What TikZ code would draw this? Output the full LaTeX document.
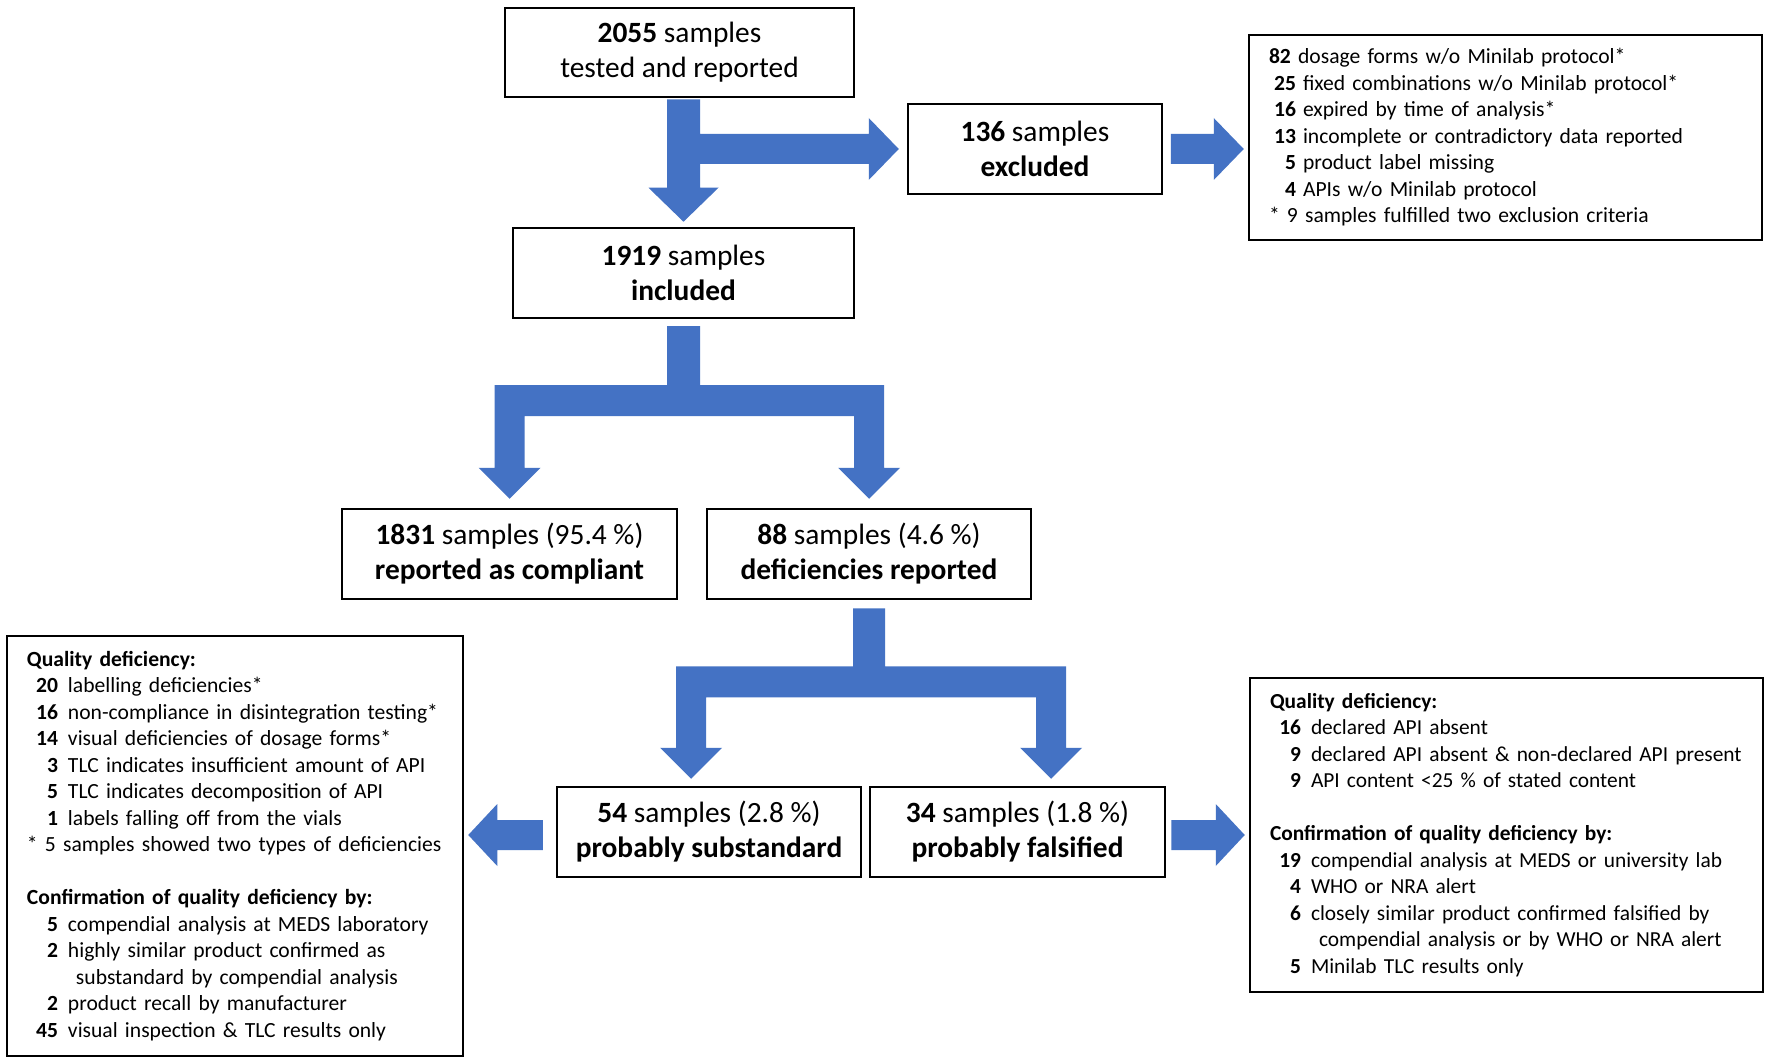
\documentclass[tikz,border=0pt]{standalone}
\usepackage{fontspec}
\setmainfont{Carlito}
\usetikzlibrary{calc}
\definecolor{arrblue}{HTML}{4472C4}
\newcommand\itm[2]{\makebox[31pt][r]{\textbf{#1}}\hspace{10pt}#2}
\newcommand\ditm[2]{\makebox[27pt][r]{\textbf{#1}}\hspace{7pt}#2}
\begin{document}
\begin{tikzpicture}[x=1pt,y=-1pt,
  box/.style={draw=black, line width=2.5pt, fill=white, inner sep=0pt, align=center,
    font=\fontsize{29.4}{35}\selectfont},
  listbox/.style={draw=black, line width=2.5pt, fill=white, inner xsep=20pt, inner ysep=0pt,
    align=left, font=\fontsize{21.6}{26.5}\selectfont},
  blk/.style={fill=arrblue}]
\fill[white] (0,0) rectangle (1770,1064);
\useasboundingbox (0,0) rectangle (1770,1064);

% boxes
\node[box, minimum width=349pt, minimum height=89pt] (A) at (679.5,52.5) {\textbf{2055} samples\\tested and reported};
\node[box, minimum width=341pt, minimum height=90pt] (B) at (683.5,273) {\textbf{1919} samples\\\textbf{included}};
\node[box, minimum width=254pt, minimum height=90pt] (C) at (1035,149) {\textbf{136} samples\\\textbf{excluded}};
\node[listbox, text width=473pt, minimum height=205pt] (D) at (1505.5,137.5) {%
\textbf{82} dosage forms w/o Minilab protocol*\\
\ditm{25}{fixed combinations w/o Minilab protocol*}\\
\ditm{16}{expired by time of analysis*}\\
\ditm{13}{incomplete or contradictory data reported}\\
\ditm{5}{product label missing}\\
\ditm{4}{APIs w/o Minilab protocol}\\
\relax * 9 samples fulfilled two exclusion criteria};
\node[box, minimum width=335pt, minimum height=90pt] (E) at (509.5,554) {\textbf{1831} samples (95.4 \%)\\\textbf{reported as compliant}};
\node[box, minimum width=324pt, minimum height=90pt] (F) at (869,554) {\textbf{88} samples (4.6 \%)\\\textbf{deficiencies reported}};
\node[box, minimum width=304pt, minimum height=90pt] (G) at (709,832) {\textbf{54} samples (2.8 \%)\\\textbf{probably substandard}};
\node[box, minimum width=295pt, minimum height=90pt] (H) at (1017.5,832) {\textbf{34} samples (1.8 \%)\\\textbf{probably falsified}};
\node[listbox, text width=473pt, minimum height=314pt, font=\fontsize{21.4}{26.5}\selectfont] (I) at (1506.5,835) {%
\textbf{Quality deficiency:}\\
\itm{16}{declared API absent}\\
\itm{9}{\mbox{declared API absent \& non-declared API present}}\\
\itm{9}{API content <25 \% of stated content}\\[26.5pt]
\textbf{Confirmation of quality deficiency by:}\\
\itm{19}{compendial analysis at MEDS or university lab}\\
\itm{4}{WHO or NRA alert}\\
\itm{6}{closely similar product confirmed falsified by}\\
\hspace*{49pt}compendial analysis or by WHO or NRA alert\\
\itm{5}{Minilab TLC results only}};
\node[listbox, text width=416pt, minimum height=420pt] (J) at (235,846) {%
\textbf{Quality deficiency:}\\
\itm{20}{labelling deficiencies*}\\
\itm{16}{non-compliance in disintegration testing*}\\
\itm{14}{visual deficiencies of dosage forms*}\\
\itm{3}{TLC indicates insufficient amount of API}\\
\itm{5}{TLC indicates decomposition of API}\\
\itm{1}{labels falling off from the vials}\\
\relax * 5 samples showed two types of deficiencies\\[26.5pt]
\textbf{Confirmation of quality deficiency by:}\\
\itm{5}{compendial analysis at MEDS laboratory}\\
\itm{2}{highly similar product confirmed as}\\
\hspace*{49pt}substandard by compendial analysis\\
\itm{2}{product recall by manufacturer}\\
\itm{45}{visual inspection \& TLC results only}};

% A -> B and A -> C
\fill[blk] let \p1=(A.south), \p2=(B.north), \p3=(C.west) in
 (\x2-16.5pt,\y1-1.25pt) -- (\x2+16.5pt,\y1-1.25pt) -- (\x2+16.5pt,\y3+15pt) -- (\x3-38pt,\y3+15pt)
 -- (\x3-38pt,\y3+31pt) -- (\x3-8pt,\y3) -- (\x3-38pt,\y3-31pt) -- (\x3-38pt,\y3-15pt)
 -- (\x2+16.5pt,\y3-15pt) -- (\x2+16.5pt,\y2+39pt) -- (\x2+35pt,\y2+39pt) -- (\x2,\y2+5pt)
 -- (\x2-35pt,\y2+39pt) -- (\x2-16.5pt,\y2+39pt) -- cycle;

% C -> D
\fill[blk] let \p1=(C.east), \p2=(D.west) in
 (\x1+7.5pt,\y1+15pt) -- (\x2-34pt,\y1+15pt) -- (\x2-34pt,\y1+31pt) -- (\x2-4pt,\y1)
 -- (\x2-34pt,\y1-31pt) -- (\x2-34pt,\y1-15pt) -- (\x1+7.5pt,\y1-15pt) -- cycle;

% B -> E and F
\fill[blk] let \p1=(B.south), \p2=(E.north), \p3=(F.north) in
 (\x1-16.5pt,\y1-7pt) -- (\x1+16.5pt,\y1-7pt) -- (\x1+16.5pt,\y1-66pt) -- (\x3+15pt,\y1-66pt)
 -- (\x3+15pt,\y3+40pt) -- (\x3+31pt,\y3+40pt) -- (\x3,\y3+9pt) -- (\x3-31pt,\y3+40pt)
 -- (\x3-15pt,\y3+40pt) -- (\x3-15pt,\y1-97pt) -- (\x2+15pt,\y1-97pt) -- (\x2+15pt,\y2+40pt)
 -- (\x2+31pt,\y2+40pt) -- (\x2,\y2+9pt) -- (\x2-31pt,\y2+40pt) -- (\x2-15pt,\y2+40pt)
 -- (\x2-15pt,\y1-66pt) -- (\x1-16.5pt,\y1-66pt) -- cycle;

% F -> G and H
\fill[blk] let \p1=(F.south), \p2=($(G.north)+(-18,0)$), \p3=($(H.north)+(33.5,0)$) in
 (\x1-16pt,\y1-8pt) -- (\x1+16pt,\y1-8pt) -- (\x1+16pt,\y1-66pt) -- (\x3+15pt,\y1-66pt)
 -- (\x3+15pt,\y3+38pt) -- (\x3+31pt,\y3+38pt) -- (\x3,\y3+7pt) -- (\x3-31pt,\y3+38pt)
 -- (\x3-15pt,\y3+38pt) -- (\x3-15pt,\y1-97pt) -- (\x2+15pt,\y1-97pt) -- (\x2+15pt,\y2+38pt)
 -- (\x2+31pt,\y2+38pt) -- (\x2,\y2+7pt) -- (\x2-31pt,\y2+38pt) -- (\x2-15pt,\y2+38pt)
 -- (\x2-15pt,\y1-66pt) -- (\x1-16pt,\y1-66pt) -- cycle;

% G -> J
\fill[blk] let \p1=(G.west), \p2=(J.east) in
 (\x1-13pt,\y1-3pt+15pt) -- (\x2+33pt,\y1-3pt+15pt) -- (\x2+33pt,\y1-3pt+31pt) -- (\x2+4pt,\y1-3pt)
 -- (\x2+33pt,\y1-3pt-31pt) -- (\x2+33pt,\y1-3pt-15pt) -- (\x1-13pt,\y1-3pt-15pt) -- cycle;

% H -> I
\fill[blk] let \p1=(H.east), \p2=(I.west) in
 (\x1+5pt,\y1-3pt+15pt) -- (\x2-33pt,\y1-3pt+15pt) -- (\x2-33pt,\y1-3pt+31pt) -- (\x2-4pt,\y1-3pt)
 -- (\x2-33pt,\y1-3pt-31pt) -- (\x2-33pt,\y1-3pt-15pt) -- (\x1+5pt,\y1-3pt-15pt) -- cycle;
\end{tikzpicture}
\end{document}
